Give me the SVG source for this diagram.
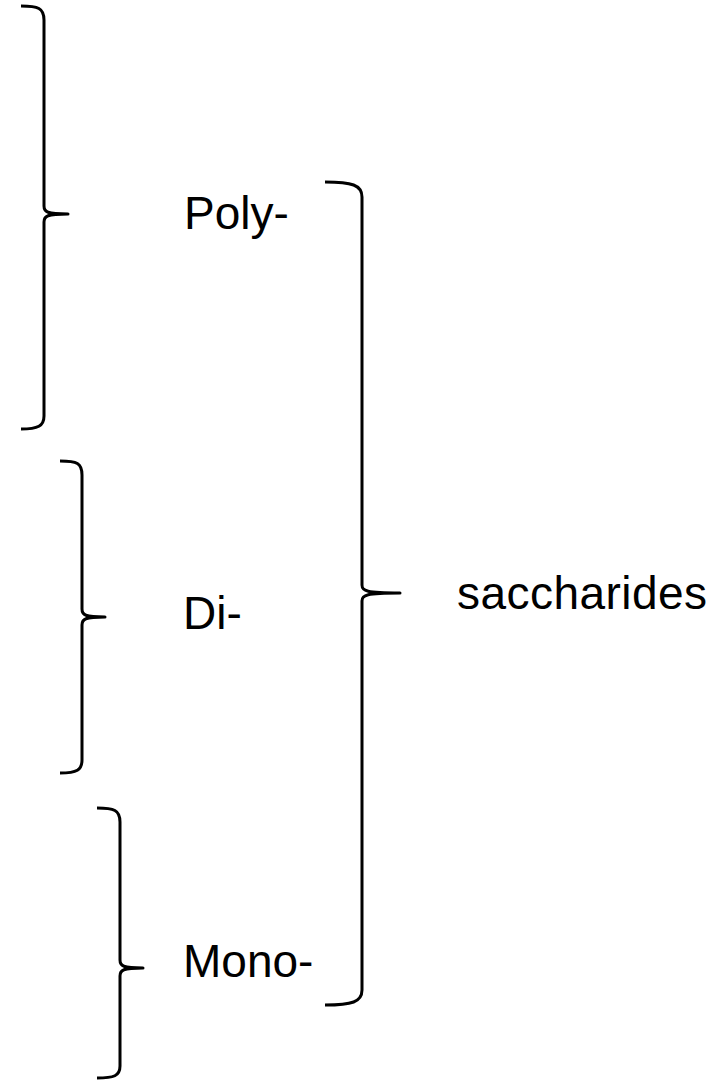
<svg xmlns="http://www.w3.org/2000/svg" width="722" height="1083" viewBox="0 0 722 1083">
  <style>
    .brace { fill: none; stroke: #000; stroke-width: 3; stroke-linecap: butt; stroke-linejoin: round; }
    .label { font-family: "Liberation Sans", Arial, sans-serif; font-size: 46px; fill: #000; }
  </style>
  <rect width="722" height="1083" fill="#fff"/>

  <g id="brace-poly">
    <path class="brace" d="M21,6 C38,6 44,8 44,20 V206 C44,212 47,214 68,214 C47,214 44,216 44,222 V416 C44,426 38,429 21,429"/>
    <text class="label" x="184" y="229">Poly-</text>
  </g>

  <g id="brace-di">
    <path class="brace" d="M60,461 C77,461 82,463 82,475 V609 C82,615 85,617 105,617 C85,617 82,619 82,625 V760 C82,770 77,773 60,773"/>
    <text class="label" x="183" y="629">Di-</text>
  </g>

  <g id="brace-mono">
    <path class="brace" d="M97,808 C114,808 120,810 120,822 V960 C120,966 123,968 143,968 C123,968 120,970 120,976 V1066 C120,1076 114,1078 97,1078"/>
    <text class="label" x="183" y="977">Mono-</text>
  </g>

  <g id="brace-saccharides">
    <path class="brace" d="M325,182 C352,182 362,185 362,197 V585 C362,591 366,593 400,593 C366,593 362,595 362,601 V990 C362,1002 352,1005 325,1005"/>
    <text class="label" x="457" y="609" textLength="250">saccharides</text>
  </g>
</svg>
